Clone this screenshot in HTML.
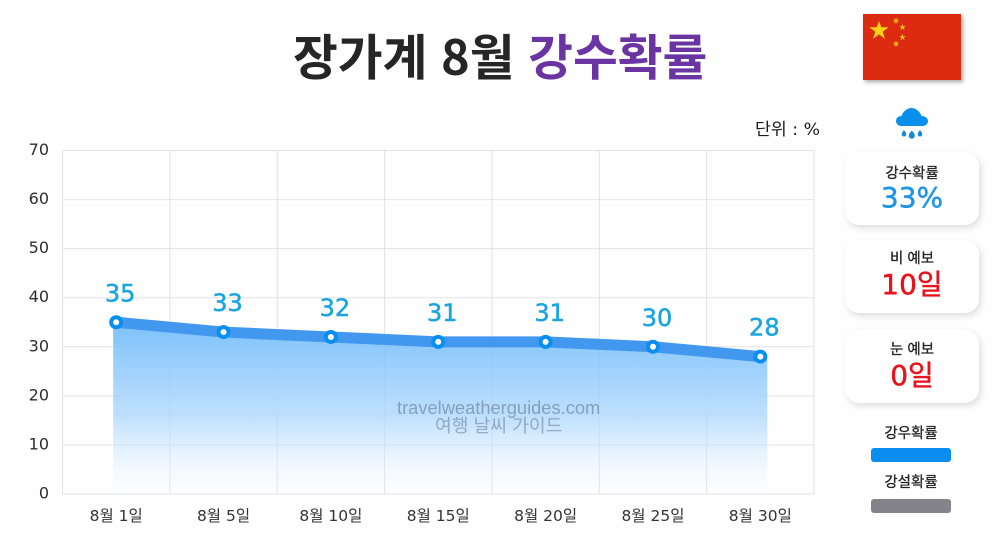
<!DOCTYPE html>
<html lang="ko">
<head>
<meta charset="utf-8">
<style>
html,body{margin:0;padding:0;background:#fefefe;}
#page{position:relative;width:1000px;height:533px;overflow:hidden;background:#fefefe;font-family:"DejaVu Sans","Noto Sans CJK KR",sans-serif;}
.abs{position:absolute;white-space:nowrap;}
.card{position:absolute;left:845px;width:134px;background:#fff;border-radius:14px;box-shadow:2px 3px 7px rgba(0,0,0,.13);}
.card-title{position:absolute;left:0;width:134px;text-align:center;font-family:"Noto Sans CJK KR",sans-serif;font-size:14.500px;color:#222;line-height:20px;-webkit-text-stroke:.3px #222;}
.card-value{position:absolute;left:0;width:134px;text-align:center;font-size:28px;line-height:38px;-webkit-text-stroke:.5px currentColor;}
.leg-label{position:absolute;left:851px;width:120px;text-align:center;font-family:"Noto Sans CJK KR",sans-serif;font-size:14.500px;color:#222;line-height:20px;-webkit-text-stroke:.3px #222;}
.leg-bar{position:absolute;left:871px;width:80px;height:14px;border-radius:3px;}
</style>
</head>
<body>
<div id="page">
  <div class="abs" style="left:293px;top:20px;font-family:'Noto Sans CJK KR',sans-serif;font-size:48.700px;font-weight:700;line-height:70px;color:#262626;">장가계 8월 <span style="color:#6a35a2;">강수확률</span></div>

  <svg class="abs" style="left:863px;top:14px;filter:drop-shadow(2px 2px 2px rgba(0,0,0,.35));" width="98" height="66" viewBox="0 0 98 66">
    <rect width="98" height="66" fill="#dc2b10"/>
    <polygon fill="#fcd116" points="16,7 18.300,13.200 25.800,13.200 19.700,17.600 22,24.800 16,20.400 10,24.800 12.300,17.600 6.200,13.200 13.700,13.200"/>
    <polygon fill="#f8bb14" points="33,3.500 33.900,5.800 36.200,5.800 34.400,7.300 35,9.600 33,8.300 31,9.600 31.600,7.300 29.800,5.800 32.100,5.800"/>
    <polygon fill="#f8bb14" points="39.500,10 40.400,12.300 42.700,12.300 40.900,13.800 41.500,16.100 39.500,14.800 37.500,16.100 38.100,13.800 36.300,12.300 38.600,12.300"/>
    <polygon fill="#f8bb14" points="39.500,20 40.400,22.300 42.700,22.300 40.900,23.800 41.500,26.100 39.500,24.800 37.500,26.100 38.100,23.800 36.300,22.300 38.600,22.300"/>
    <polygon fill="#f8bb14" points="33,26.500 33.900,28.800 36.200,28.800 34.400,30.300 35,32.600 33,31.300 31,32.600 31.600,30.300 29.800,28.800 32.100,28.800"/>
  </svg>

  <div class="abs" style="left:755px;top:118px;font-size:17.300px;line-height:24px;color:#1c1c1c;">단위 : %</div>

  <svg class="abs" style="left:893px;top:106px;" width="38" height="34" viewBox="0 0 38 34">
    <path fill="#0a8fec" d="M8.500 20 C5 20 3 17.500 3 15 C3 12 5.500 10 8.500 10 C10 5.500 14 2 18.500 2 C23 2 27 5.500 28.500 10 C32 10 35 12 35 15 C35 17.500 33 20 29.500 20 Z"/>
    <path fill="#1689d8" d="M11 24 C12.500 26 13.300 27 13.300 28.200 A2.300 2.300 0 0 1 8.700 28.200 C8.700 27 9.500 26 11 24 Z"/>
    <path fill="#1689d8" d="M18.800 24.500 C20.800 27 21.800 28.300 21.800 29.700 A3 3 0 0 1 15.800 29.700 C15.800 28.300 16.800 27 18.800 24.500 Z"/>
    <path fill="#1689d8" d="M27 24 C28.500 26 29.300 27 29.300 28.200 A2.300 2.300 0 0 1 24.700 28.200 C24.700 27 25.500 26 27 24 Z"/>
  </svg>

  <svg id="chart" class="abs" style="left:0;top:0;" width="1000" height="533" viewBox="0 0 1000 533">
    <defs>
      <linearGradient id="areaFill" gradientUnits="userSpaceOnUse" x1="0" y1="322" x2="0" y2="494">
        <stop offset="0" stop-color="#6dbbfa" stop-opacity=".9"/>
        <stop offset=".55" stop-color="#aed8fd" stop-opacity=".8"/>
        <stop offset="1" stop-color="#e6f3ff" stop-opacity=".05"/>
      </linearGradient>
    </defs>
    <g id="grid"></g>
    <g id="yticks"></g>
    <g id="xticks"></g>
    <g id="series"></g>
  </svg>

  <div class="abs" style="left:397px;top:398px;font-family:'Liberation Sans',sans-serif;font-size:18.300px;line-height:20px;color:rgba(90,110,135,.55);">travelweatherguides.com</div>
  <div class="abs" style="left:435px;top:415px;font-family:'Noto Sans CJK KR',sans-serif;font-size:18.200px;line-height:20px;color:rgba(90,110,135,.5);">여행 날씨 가이드</div>

  <div class="card" style="top:152px;height:73px;">
    <div class="card-title" style="top:11px;">강수확률</div>
    <div class="card-value" style="top:27px;color:#1f95e8;">33%</div>
  </div>
  <div class="card" style="top:240px;height:73px;">
    <div class="card-title" style="top:8px;">비 예보</div>
    <div class="card-value" style="top:26px;color:#e8121a;">10일</div>
  </div>
  <div class="card" style="top:330px;height:73px;">
    <div class="card-title" style="top:9px;">눈 예보</div>
    <div class="card-value" style="top:27px;color:#e8121a;">0일</div>
  </div>

  <div class="leg-label" style="top:423px;">강우확률</div>
  <div class="leg-bar" style="top:448px;background:#0a8ff0;"></div>
  <div class="leg-label" style="top:472px;">강설확률</div>
  <div class="leg-bar" style="top:499px;background:#85838a;"></div>
</div>

<script>
const categories = ["8월 1일","8월 5일","8월 10일","8월 15일","8월 20일","8월 25일","8월 30일"];
const rainValues = [35,33,32,31,31,30,28];
const yTickValues = [0,10,20,30,40,50,60,70];

const NS = "http://www.w3.org/2000/svg";
const plotLeft = 62.5, plotRight = 814, plotTop = 150.5, plotBottom = 494;
const yMax = 70;
const bandWidth = (plotRight - plotLeft) / categories.length;
function xScale(i){ return plotLeft + bandWidth * (i + 0.5); }
function yScale(v){ return plotBottom - (v / yMax) * (plotBottom - plotTop); }
function make(tag, attrs, parent){
  const el = document.createElementNS(NS, tag);
  for (const k in attrs) el.setAttribute(k, attrs[k]);
  parent.appendChild(el);
  return el;
}
const grid = document.getElementById('grid');
const yticks = document.getElementById('yticks');
const xticks = document.getElementById('xticks');
const series = document.getElementById('series');

yTickValues.forEach(function(v){
  const line = make('line', {x1:plotLeft, x2:plotRight, y1:yScale(v), y2:yScale(v), stroke:'#e4e4e8', 'stroke-width':1}, grid);
  
  
  const label = make('text', {x:49, y:yScale(v)+4.5, 'text-anchor':'end', 'font-size':16, fill:'#2e2e2e'}, yticks);
  label.textContent = v;
  
  
});
for (let i = 0; i <= categories.length; i++){
  const x = plotLeft + bandWidth * i;
  const line = make('line', {x1:x, x2:x, y1:plotTop, y2:plotBottom, stroke:'#e2e2e6', 'stroke-width':1}, grid);
  
  
}
categories.forEach(function(c, i){
  const label = make('text', {x:xScale(i), y:521, 'text-anchor':'middle', 'font-size':15.5, fill:'#333'}, xticks);
  label.textContent = c;
  
  
});

const last = rainValues.length - 1;
let areaD = 'M' + (xScale(0) - 3) + ' ' + plotBottom + ' L' + (xScale(0) - 3) + ' ' + yScale(rainValues[0]);
rainValues.forEach(function(v, i){ areaD += ' L' + xScale(i) + ' ' + yScale(v); });
areaD += ' L' + (xScale(last) + 7) + ' ' + yScale(rainValues[last]) + ' L' + (xScale(last) + 7) + ' ' + plotBottom + ' Z';
const area = make('path', {d:areaD, fill:'url(#areaFill)'}, series);



const linePts = rainValues.map(function(v, i){ return xScale(i) + ',' + yScale(v); }).join(' ');
const line = make('polyline', {points:linePts, fill:'none', stroke:'#4297ee', 'stroke-width':11}, series);



rainValues.forEach(function(v, i){
  const pt = make('circle', {cx:xScale(i), cy:yScale(v), r:5, fill:'#fff', stroke:'#0a8ff0', 'stroke-width':4}, series);
  
  
  const val = make('text', {x:xScale(i) + 4, y:yScale(v) - 21, 'text-anchor':'middle', 'font-size':24, fill:'#1aa5e2', stroke:'#1aa5e2', 'stroke-width':0.5}, series);
  val.textContent = v;
  
  
});
</script>
</body>
</html>
